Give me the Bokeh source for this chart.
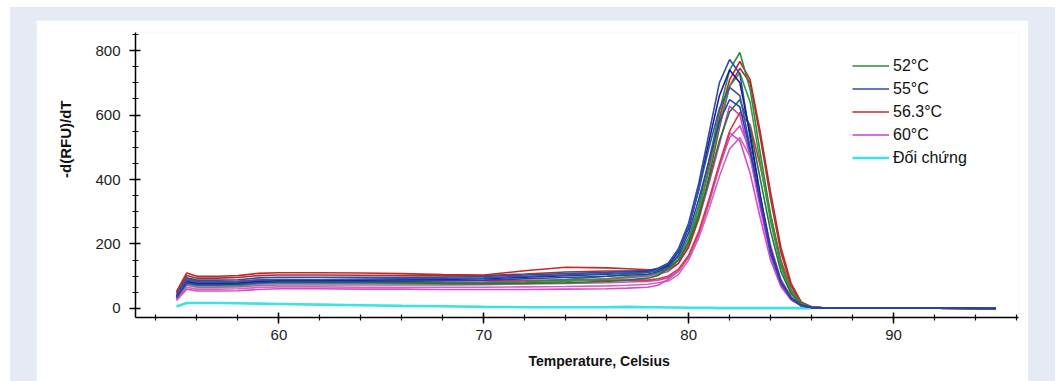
import math
from bokeh.plotting import figure
from bokeh.models import FixedTicker, Legend, LegendItem, Title, Range1d
from bokeh.layouts import column
from bokeh.embed import file_html
from bokeh.resources import INLINE

# Temperature grid (Celsius)
temps = [55.0, 55.5, 56.0, 57.0, 58.0, 59.0, 60.0, 62.0, 64.0, 66.0, 68.0, 70.0,
         72.0, 74.0, 76.0, 77.0, 78.0, 78.5, 79.0, 79.5, 80.0, 80.5, 81.0, 81.5,
         82.0, 82.5, 83.0, 83.5, 84.0, 84.5, 85.0, 85.5, 86.0, 86.5, 88.0, 90.0,
         92.0, 95.0]

# 52 oC replicates
g52_a = [35, 85, 80, 80, 81, 86, 88, 86, 84, 82, 80, 79, 82, 90, 100, 106, 112, 118, 130, 160, 220, 320, 460, 610, 740, 794, 680, 480, 290, 140, 55, 15, 4, 2, 1, 1, 1, 0]
g52_b = [33, 76, 70, 70, 71, 76, 78, 78, 78, 77, 76, 76, 79, 84, 92, 98, 104, 110, 120, 150, 210, 305, 430, 570, 690, 730, 640, 450, 270, 130, 50, 14, 4, 2, 1, 1, 1, 0]
g52_c = [36, 82, 76, 76, 77, 82, 84, 83, 82, 80, 78, 77, 78, 80, 84, 88, 94, 102, 125, 150, 205, 290, 400, 520, 610, 648, 560, 400, 240, 115, 45, 12, 4, 2, 1, 1, 1, 0]

# 55 oC replicates
b55_a = [40, 95, 88, 88, 89, 95, 97, 97, 97, 96, 97, 99, 104, 108, 112, 115, 118, 125, 140, 185, 265, 390, 545, 700, 772, 728, 530, 345, 170, 78, 31, 9, 3, 2, 1, 1, 1, 0]
b55_b = [36, 84, 78, 78, 79, 84, 86, 87, 88, 89, 90, 92, 97, 102, 106, 110, 114, 122, 135, 175, 250, 370, 520, 660, 740, 700, 540, 350, 185, 85, 32, 9, 3, 2, 1, 1, 1, 0]
b55_c = [38, 88, 82, 82, 83, 88, 90, 90, 91, 92, 93, 95, 100, 104, 108, 110, 112, 122, 140, 180, 255, 370, 500, 620, 686, 660, 500, 330, 175, 80, 30, 8, 3, 2, 1, 1, 1, 0]
b55_d = [34, 80, 74, 74, 75, 80, 82, 82, 83, 84, 86, 88, 92, 96, 100, 103, 106, 114, 130, 165, 235, 340, 460, 580, 648, 625, 490, 330, 180, 85, 33, 9, 3, 2, 1, 1, 1, 0]

# 56.3 oC replicates
r56_a = [52, 110, 100, 100, 102, 109, 111, 111, 110, 108, 105, 104, 117, 128, 126, 123, 120, 121, 128, 150, 205, 300, 440, 590, 710, 766, 710, 545, 360, 190, 78, 20, 5, 3, 2, 1, 1, 0]
r56_b = [48, 102, 94, 94, 96, 102, 104, 104, 103, 102, 101, 102, 107, 113, 116, 116, 115, 116, 120, 140, 190, 280, 410, 560, 690, 745, 700, 530, 340, 175, 70, 18, 5, 3, 2, 1, 1, 0]
r56_c = [42, 92, 84, 84, 85, 89, 90, 89, 88, 87, 86, 86, 87, 88, 88, 88, 88, 92, 100, 122, 165, 240, 340, 450, 550, 608, 570, 440, 290, 150, 60, 16, 4, 3, 2, 1, 1, 0]

# 60 oC replicates
m60_a = [32, 78, 72, 72, 73, 78, 80, 80, 80, 80, 81, 82, 85, 88, 92, 95, 100, 106, 115, 140, 195, 280, 390, 510, 628, 600, 470, 310, 165, 75, 28, 8, 3, 2, 1, 1, 1, 0]
m60_b = [30, 72, 66, 66, 67, 71, 73, 73, 73, 73, 73, 74, 76, 78, 80, 82, 84, 88, 95, 115, 160, 235, 330, 440, 530, 567, 490, 340, 195, 90, 35, 10, 3, 2, 1, 1, 1, 0]
m60_c = [28, 66, 60, 60, 61, 65, 67, 67, 66, 66, 66, 66, 67, 68, 70, 72, 75, 80, 85, 105, 150, 220, 310, 410, 495, 530, 470, 330, 190, 90, 35, 10, 3, 2, 1, 1, 1, 0]
m60_d = [25, 60, 54, 54, 55, 59, 61, 61, 60, 60, 59, 59, 59, 60, 61, 63, 66, 72, 90, 115, 160, 230, 330, 440, 545, 520, 420, 280, 150, 68, 26, 8, 3, 2, 1, 1, 1, 0]

# Control (Đối chứng), ends at 86 C
ctrl = [6, 17, 17, 17, 16, 15, 14, 12, 10, 8, 7, 5, 4, 4, 4, 5, 4, 4, 3, 3, 2, 2, 2, 1, 1, 1, 1, 1, 1, 1, 1, 1, 1]

labels = ["52\u00b0C", "55\u00b0C", "56.3\u00b0C", "60\u00b0C", "Đối chứng"]
x_title = "Temperature, Celsius"
y_title = "-d(RFU)/dT"

FONT = "Liberation Sans"

p = figure(width=992, height=361, output_backend="svg", toolbar_location=None,
           x_range=Range1d(53, 96.1), y_range=Range1d(-28, 856),
           min_border_left=99, min_border_right=10, min_border_top=12, min_border_bottom=64)
p.outline_line_color = None
p.xgrid.visible = False
p.ygrid.visible = False
p.background_fill_color = "white"
p.border_fill_color = "white"

groups = [
    ("m", [(m60_a, "#d23cd2"), (m60_b, "#c054c0"), (m60_c, "#c86ab8"), (m60_d, "#d848d0")]),
    ("r", [(r56_a, "#c62828"), (r56_b, "#a83232"), (r56_c, "#d63a3a")]),
    ("g", [(g52_a, "#2e8b3d"), (g52_b, "#3a9948"), (g52_c, "#237a35")]),
    ("b", [(b55_a, "#2c4fa3"), (b55_b, "#1c1c9c"), (b55_c, "#3454a8"), (b55_d, "#2840b0")]),
]

r_ctrl = p.line(temps[:len(ctrl)], ctrl, line_color="#3de3e3", line_width=2.6)
first = {}
for key, series in groups:
    for vals, col in series:
        r = p.line(temps, vals, line_color=col, line_width=1.6)
        first.setdefault(key, r)

for ax in (p.xaxis[0], p.yaxis[0]):
    ax.axis_line_color = "black"
    ax.axis_line_width = 1.5
    ax.major_tick_line_color = "black"
    ax.major_tick_line_width = 1.5
    ax.minor_tick_line_color = "black"
    ax.minor_tick_line_width = 1.2
    ax.major_tick_in = 5
    ax.major_tick_out = 6
    ax.minor_tick_in = 3
    ax.minor_tick_out = 3
    ax.major_label_text_font = FONT
    ax.major_label_text_font_size = "15px"
    ax.major_label_text_color = "#222222"

p.xaxis.ticker = FixedTicker(ticks=[60, 70, 80, 90], minor_ticks=list(range(54, 97, 2)))
p.yaxis.ticker = FixedTicker(ticks=[0, 200, 400, 600, 800], minor_ticks=list(range(0, 851, 50)))
p.xaxis.major_label_standoff = 6
p.yaxis.major_label_standoff = 9

p.add_layout(Title(text=y_title, align="right", offset=68, vertical_align="middle",
                   standoff=35, text_font=FONT, text_font_style="bold",
                   text_font_size="15px", text_color="#111111"), "left")
p.add_layout(Title(text=x_title, align="left", offset=393, vertical_align="top",
                   standoff=21, text_font=FONT, text_font_style="bold",
                   text_font_size="14px", text_color="#111111"), "below")

legend = Legend(items=[
    LegendItem(label=labels[0], renderers=[first["g"]]),
    LegendItem(label=labels[1], renderers=[first["b"]]),
    LegendItem(label=labels[2], renderers=[first["r"]]),
    LegendItem(label=labels[3], renderers=[first["m"]]),
    LegendItem(label=labels[4], renderers=[r_ctrl]),
], location=(717, 150), label_text_font=FONT, label_text_font_size="16px",
    label_text_color="#111111", glyph_width=37, glyph_height=19, label_height=19,
    spacing=4, padding=0, margin=0, label_standoff=4, border_line_color=None,
    background_fill_alpha=0)
p.add_layout(legend)

layout = column(p, styles={"background-color": "#e6eaf5", "padding": "13px 27px 0px 26px",
                           "margin-left": "10px", "margin-top": "7px"})

open("out.html", "w").write(file_html(layout, INLINE))
